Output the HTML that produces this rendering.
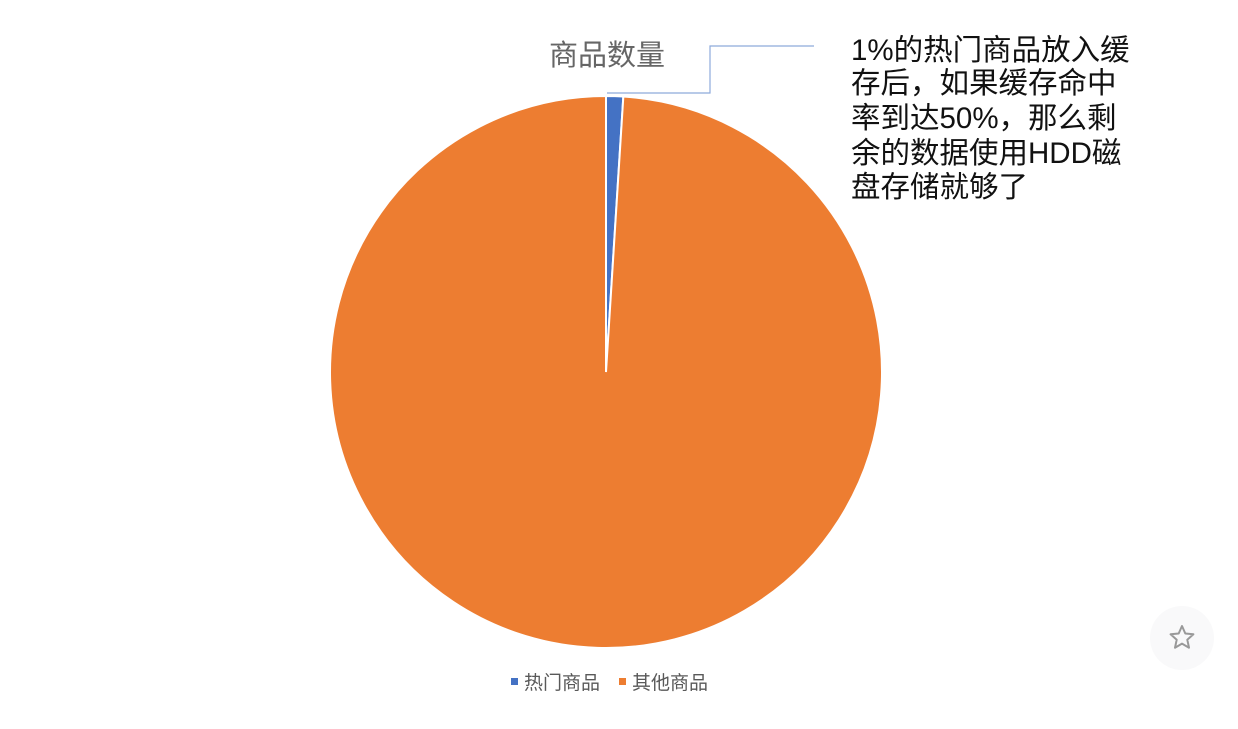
<!DOCTYPE html>
<html><head><meta charset="utf-8"><style>
html,body{margin:0;padding:0;background:#fff;}
svg{display:block;font-family:"Liberation Sans","Noto Sans CJK SC",sans-serif;}
</style></head><body>
<svg id="chart" width="1238" height="729">
<text x="607" y="65" font-size="29" fill="#666" text-anchor="middle">商品数量</text>
<g id="slices"></g>
<polyline points="607,93 710,93 710,46 814,46" fill="none" stroke="#8eaadb" stroke-width="1.2"/>
<g font-size="29.5" fill="#111">
<text x="851" y="60">1%的热门商品放入缓</text>
<text x="851" y="93">存后，如果缓存命中</text>
<text x="851" y="128">率到达50%，那么剩</text>
<text x="851" y="163">余的数据使用HDD磁</text>
<text x="851" y="197">盘存储就够了</text>
</g>
<g id="legend" font-size="19" fill="#595959"></g>
<g>
<circle cx="1182" cy="638" r="32" fill="#f9f9fa"/>
<polygon points="1182,626 1185.3,633.5 1193.4,634.3 1187.3,639.7 1189,647.7 1182,643.6 1175,647.7 1176.7,639.7 1170.6,634.3 1178.7,633.5" fill="none" stroke="#999" stroke-width="2" stroke-linejoin="round"/>
</g>
</svg>
<script>
const categories = ["热门商品","其他商品"];
const values = [1, 99];
const colors = ["#4472c4","#ed7d31"];
const cx = 606, cy = 372, r = 276;
const ns = "http://www.w3.org/2000/svg";
const g = document.getElementById('slices');
const total = values.reduce((a,b)=>a+b,0);
let start = 0;
values.forEach((v,i)=>{
  const a0 = start/total*2*Math.PI, a1 = (start+v)/total*2*Math.PI;
  start += v;
  const x0 = cx + r*Math.sin(a0), y0 = cy - r*Math.cos(a0);
  const x1 = cx + r*Math.sin(a1), y1 = cy - r*Math.cos(a1);
  const large = (a1-a0) > Math.PI ? 1 : 0;
  const p = document.createElementNS(ns,'path');
  p.setAttribute('d',`M${cx},${cy} L${x0},${y0} A${r},${r} 0 ${large} 1 ${x1},${y1} Z`);
  p.setAttribute('fill',colors[i]);
  p.setAttribute('stroke','#fff');
  p.setAttribute('stroke-width','2');
  
  
  g.appendChild(p);
});
const lg = document.getElementById('legend');
const lx = [511, 619];
categories.forEach((c,i)=>{
  const s = document.createElementNS(ns,'rect');
  s.setAttribute('x', lx[i]); s.setAttribute('y', 678);
  s.setAttribute('width', 7); s.setAttribute('height', 7);
  s.setAttribute('fill', colors[i]);
  
  
  lg.appendChild(s);
  const t = document.createElementNS(ns,'text');
  t.setAttribute('x', lx[i]+13); t.setAttribute('y', 689);
  t.textContent = c;
  
  
  lg.appendChild(t);
});
</script>
</body></html>
